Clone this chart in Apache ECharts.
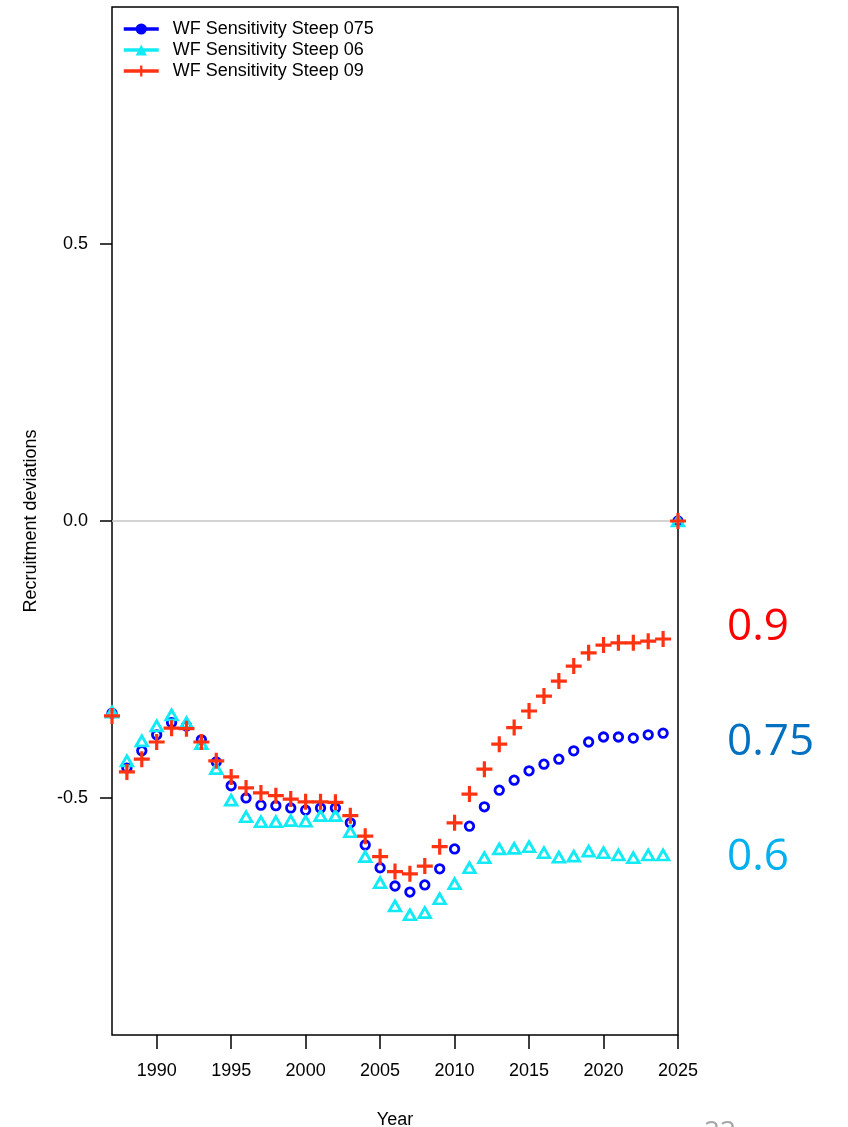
<!DOCTYPE html>
<html>
<head>
<meta charset="utf-8">
<script src="https://cdn.jsdelivr.net/npm/echarts@6/dist/echarts.min.js"></script>
<style>
  html, body { margin: 0; padding: 0; background: #ffffff; }
  #chart { width: 848px; height: 1127px; }
</style>
</head>
<body>
<div id="chart"></div>
<script>
// Recruitment deviations by year for three steepness sensitivity runs
const years = [];
for (let y = 1987; y <= 2025; y++) years.push(y);

const steep075 = [
  -0.347, -0.446, -0.415, -0.386, -0.364, -0.370, -0.395, -0.435, -0.478, -0.500,
  -0.513, -0.514, -0.518, -0.522, -0.518, -0.518, -0.545, -0.585, -0.626, -0.659,
  -0.670, -0.657, -0.628, -0.592, -0.551, -0.516, -0.486, -0.468, -0.451, -0.439,
  -0.430, -0.415, -0.399, -0.390, -0.390, -0.392, -0.386, -0.383, 0
];
const steep06 = [
  -0.345, -0.433, -0.397, -0.370, -0.350, -0.364, -0.402, -0.447, -0.504, -0.534,
  -0.543, -0.543, -0.541, -0.542, -0.532, -0.532, -0.561, -0.606, -0.653, -0.695,
  -0.711, -0.707, -0.682, -0.655, -0.626, -0.608, -0.592, -0.591, -0.588, -0.599,
  -0.607, -0.605, -0.596, -0.599, -0.603, -0.608, -0.603, -0.603, 0
];
const steep09 = [
  -0.352, -0.453, -0.430, -0.399, -0.374, -0.375, -0.399, -0.433, -0.462, -0.482,
  -0.491, -0.496, -0.502, -0.507, -0.507, -0.508, -0.532, -0.569, -0.606, -0.633,
  -0.637, -0.623, -0.588, -0.545, -0.493, -0.448, -0.403, -0.373, -0.343, -0.316,
  -0.289, -0.262, -0.238, -0.224, -0.220, -0.220, -0.217, -0.213, 0
];

const seriesNames = ['WF Sensitivity Steep 075', 'WF Sensitivity Steep 06', 'WF Sensitivity Steep 09'];
const xTicks = [1990, 1995, 2000, 2005, 2010, 2015, 2020, 2025];
const yTicks = [-0.5, 0, 0.5];
const steepLabels = ['0.9', '0.75', '0.6'];

const BLUE = '#0000ff';
const CYAN = '#12eaf5';
const RED = '#ff3311';
const FONT = 'Liberation Sans, Arial, sans-serif';
const PLUS = 'path://M8,0H12V8H20V12H12V20H8V12H0V8H8Z';

const pairs = vals => years.map((y, i) => [y, vals[i]]);
const hidden = { opacity: 0, width: 0 };

const chart = echarts.init(document.getElementById('chart'), null, { renderer: 'canvas' });

chart.setOption({
  animation: false,
  backgroundColor: '#ffffff',
  grid: {
    left: 112, top: 7, width: 566, height: 1028,
    outerBoundsMode: 'none', containLabel: false,
    show: true, borderColor: '#000000', borderWidth: 1.5, backgroundColor: 'transparent'
  },
  xAxis: {
    type: 'value', min: 1987, max: 2025,
    name: 'Year', nameLocation: 'middle', nameGap: 76,
    nameTextStyle: { fontFamily: FONT, fontSize: 18, color: '#000000' },
    axisLine: { show: false, onZero: false },
    splitLine: { show: false },
    axisTick: { show: true, length: 14, customValues: xTicks, lineStyle: { color: '#000000', width: 1.5 } },
    axisLabel: {
      customValues: xTicks, margin: 27, fontFamily: FONT, fontSize: 18, color: '#000000',
      formatter: v => String(v)
    }
  },
  yAxis: {
    type: 'value', min: -0.928, max: 0.928,
    name: 'Recruitment deviations', nameLocation: 'middle', nameGap: 72, nameRotate: 90,
    nameTextStyle: { fontFamily: FONT, fontSize: 18, color: '#000000' },
    axisLine: { show: false, onZero: false },
    splitLine: { show: false },
    axisTick: { show: true, length: 12, customValues: yTicks, lineStyle: { color: '#000000', width: 1.5 } },
    axisLabel: {
      customValues: yTicks, margin: 24, fontFamily: FONT, fontSize: 18, color: '#000000',
      formatter: v => v.toFixed(1)
    }
  },
  legend: {
    orient: 'vertical', left: 117, top: 15, itemGap: 3,
    itemWidth: 35, itemHeight: 14,
    textStyle: { fontFamily: FONT, fontSize: 18, color: '#000000', padding: [0, 0, 0, 9] },
    data: [
      { name: seriesNames[0], itemStyle: { color: BLUE, borderWidth: 0 }, lineStyle: { color: BLUE, width: 3.5, opacity: 1 } },
      { name: seriesNames[1], itemStyle: { color: CYAN, borderWidth: 0 }, lineStyle: { color: CYAN, width: 3.5, opacity: 1 } },
      { name: seriesNames[2], itemStyle: { color: RED, borderWidth: 0 }, lineStyle: { color: RED, width: 3.5, opacity: 1 } }
    ]
  },
  series: [
    {
      name: seriesNames[0], type: 'line', data: pairs(steep075),
      symbol: 'circle', symbolSize: 8.5, showAllSymbol: true,
      lineStyle: hidden,
      itemStyle: { color: 'rgba(255,255,255,0)', borderColor: BLUE, borderWidth: 2.8 },
      markLine: {
        silent: true, symbol: 'none', label: { show: false },
        lineStyle: { color: '#c4c4c4', width: 1.5, type: 'solid' },
        data: [{ yAxis: 0 }]
      },
      z: 3
    },
    {
      name: seriesNames[1], type: 'line', data: pairs(steep06),
      symbol: 'triangle', symbolSize: [11.5, 10], showAllSymbol: true,
      lineStyle: hidden,
      itemStyle: { color: 'rgba(255,255,255,0)', borderColor: CYAN, borderWidth: 2.8 },
      z: 4
    },
    {
      name: seriesNames[2], type: 'line', data: pairs(steep09),
      symbol: PLUS, symbolSize: 16, showAllSymbol: true,
      lineStyle: hidden,
      itemStyle: { color: RED, borderWidth: 0 },
      z: 5
    }
  ],
  graphic: [
    { type: 'text', left: 727, top: 605, style: { text: steepLabels[0], fill: '#ff0000', font: '44px "Open Sans", sans-serif' } },
    { type: 'text', left: 727, top: 720, style: { text: steepLabels[1], fill: '#0070c0', font: '44px "Open Sans", sans-serif' } },
    { type: 'text', left: 727, top: 835, style: { text: steepLabels[2], fill: '#00b0f0', font: '44px "Open Sans", sans-serif' } },
    { type: 'text', left: 704, top: 1119, style: { text: '23', fill: '#a6a6a6', font: '28px "Open Sans", sans-serif' } }
  ]
});
</script>
</body>
</html>
